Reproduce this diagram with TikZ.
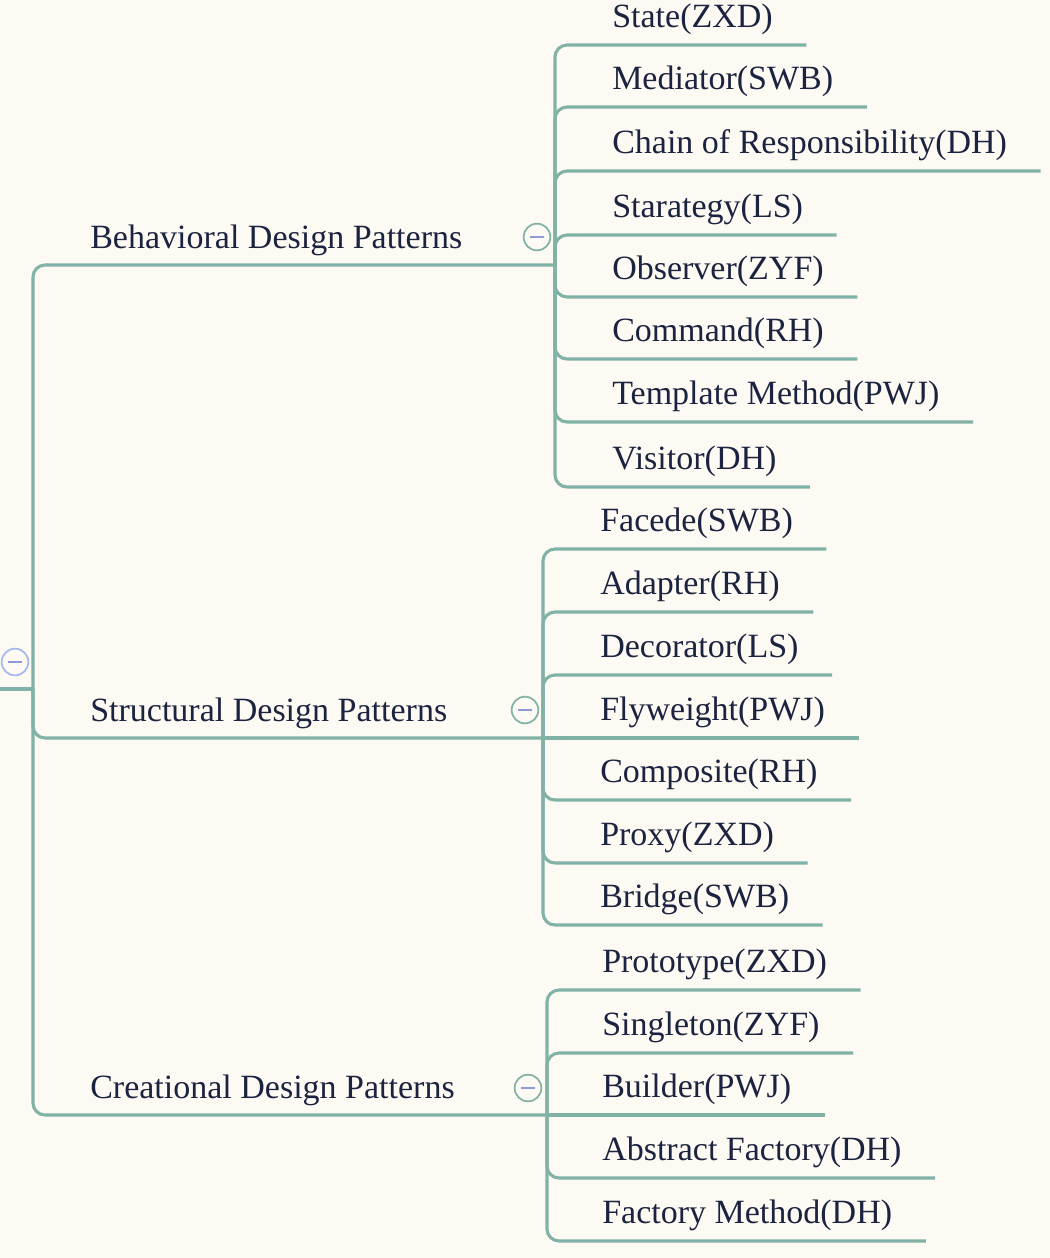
\documentclass[tikz,border=0pt]{standalone}
\usepackage{fontspec}
\setmainfont{Liberation Serif}
\usepackage{xcolor}
\usepackage{tikz}
\usetikzlibrary{calc}

\begin{document}
\begin{tikzpicture}[
  x=0.75pt, y=-0.75pt,
  font=\fontsize{25.5}{30}\selectfont,
  link/.style={draw=lineC, line width=2.3pt, rounded corners=9pt},
  topic/.style={anchor=south west, inner xsep=0pt, inner ysep=12pt, text depth=0pt, text=inkC},
  leaf/.style={anchor=south west, inner xsep=0pt, inner ysep=12.8pt, text depth=0pt, text=inkC},
  fold/.style={circle, draw=#1, line width=1.3pt, fill=bgC, minimum size=20pt, inner sep=0pt,
    path picture={\draw[minusC, line width=1.5pt] ([xshift=-5pt]path picture bounding box.center) -- ([xshift=5pt]path picture bounding box.center);}},
]
\definecolor{bgC}{HTML}{FDFAF3}
\definecolor{lineC}{HTML}{80B2A6}
\definecolor{inkC}{HTML}{1C2340}
\definecolor{minusC}{HTML}{8E9BD8}
\definecolor{rootC}{HTML}{A4B8F0}

\fill[bgC] (0,0) rectangle (1050,1258);
\useasboundingbox (0,0) rectangle (1050,1258);

% root and trunk
\coordinate (rt0) at (0,689);
\coordinate (rt) at (33,689);
\coordinate (bj) at (555,265);
\coordinate (sj) at (543,738);
\coordinate (cj) at (547,1115);
\draw[link] (rt0) -- (rt);
\draw[link] (rt) |- (bj);
\draw[link] (rt) |- (sj);
\draw[link] (rt) |- (cj);

\node[topic] (bh) at (90,265) {Behavioral Design Patterns};
\node[topic] (st) at (90,738) {Structural Design Patterns};
\node[topic] (cr) at (90,1115) {Creational Design Patterns};

% behavioral
\node[leaf] (b1) at (612,45) {State(ZXD)};
\node[leaf] (b2) at (612,107) {Mediator(SWB)};
\node[leaf] (b3) at (612,171) {Chain of Responsibility(DH)};
\node[leaf] (b4) at (612,235) {Starategy(LS)};
\node[leaf] (b5) at (612,297) {Observer(ZYF)};
\node[leaf] (b6) at (612,359) {Command(RH)};
\node[leaf] (b7) at (612,422) {Template Method(PWJ)};
\node[leaf] (b8) at (612,487) {Visitor(DH)};
\draw[link] (bj) |- ([xshift=25pt]b1.south east); \draw[link] (bj) |- ([xshift=25pt]b2.south east);
\draw[link] (bj) |- ([xshift=25pt]b3.south east); \draw[link] (bj) |- ([xshift=25pt]b4.south east);
\draw[link] (bj) |- ([xshift=25pt]b5.south east); \draw[link] (bj) |- ([xshift=25pt]b6.south east);
\draw[link] (bj) |- ([xshift=25pt]b7.south east); \draw[link] (bj) |- ([xshift=25pt]b8.south east);

% structural
\node[leaf] (s1) at (600,549) {Facede(SWB)};
\node[leaf] (s2) at (600,612) {Adapter(RH)};
\node[leaf] (s3) at (600,675) {Decorator(LS)};
\node[leaf] (s4) at (600,738) {Flyweight(PWJ)};
\node[leaf] (s5) at (600,800) {Composite(RH)};
\node[leaf] (s6) at (600,863) {Proxy(ZXD)};
\node[leaf] (s7) at (600,925) {Bridge(SWB)};
\draw[link] (sj) |- ([xshift=25pt]s1.south east); \draw[link] (sj) |- ([xshift=25pt]s2.south east);
\draw[link] (sj) |- ([xshift=25pt]s3.south east); \draw[link] (sj) -- ([xshift=25pt]s4.south east);
\draw[link] (sj) |- ([xshift=25pt]s5.south east); \draw[link] (sj) |- ([xshift=25pt]s6.south east);
\draw[link] (sj) |- ([xshift=25pt]s7.south east);

% creational
\node[leaf] (c1) at (602,990) {Prototype(ZXD)};
\node[leaf] (c2) at (602,1053) {Singleton(ZYF)};
\node[leaf] (c3) at (602,1115) {Builder(PWJ)};
\node[leaf] (c4) at (602,1178) {Abstract Factory(DH)};
\node[leaf] (c5) at (602,1241) {Factory Method(DH)};
\draw[link] (cj) |- ([xshift=25pt]c1.south east); \draw[link] (cj) |- ([xshift=25pt]c2.south east);
\draw[link] (cj) -- ([xshift=25pt]c3.south east); \draw[link] (cj) |- ([xshift=25pt]c4.south east);
\draw[link] (cj) |- ([xshift=25pt]c5.south east);

% collapse buttons
\node[fold=rootC] (f0) at (15,662) {};
\node[fold=lineC] (f1) at (537,237) {};
\node[fold=lineC] (f2) at (525,710) {};
\node[fold=lineC] (f3) at (528,1088) {};
\end{tikzpicture}
\end{document}
